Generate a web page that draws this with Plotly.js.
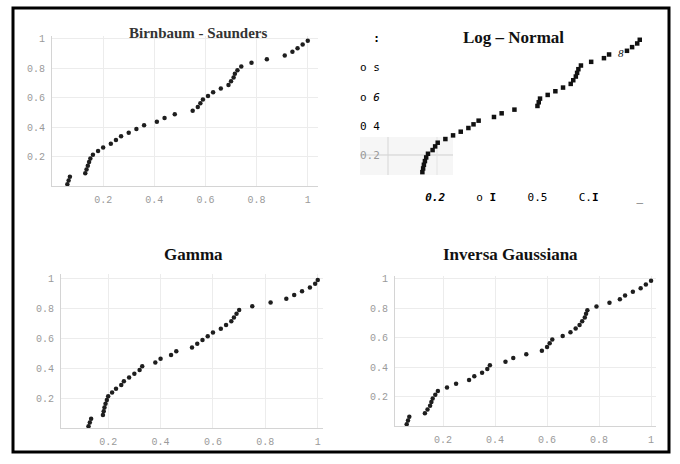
<!DOCTYPE html>
<html><head><meta charset="utf-8">
<script src="https://cdn.plot.ly/plotly-3.0.1.min.js"></script>
<style>html,body{margin:0;padding:0;background:#fff}#c{width:680px;height:464px}</style>
</head><body><div id="c"></div>
<script>
// Empirical probabilities (plotting positions)
const yEmp = [0.0125,0.0375,0.0625,0.0875,0.1125,0.1375,0.1625,0.1875,0.2125,0.2375,0.2625,0.2875,0.3125,0.3375,0.3625,0.3875,0.4125,0.4375,0.4625,0.4875,0.5125,0.5375,0.5625,0.5875,0.6125,0.6375,0.6625,0.6875,0.7125,0.7375,0.7625,0.7875,0.8125,0.8375,0.8625,0.8875,0.9125,0.9375,0.9625,0.9875];
const yEmpLN = [0.0875,0.1125,0.1375,0.1625,0.1875,0.2125,0.2375,0.2625,0.2875,0.3125,0.3375,0.3625,0.3875,0.4125,0.4375,0.4625,0.4875,0.5125,0.5375,0.5625,0.5875,0.6125,0.6375,0.6625,0.6875,0.7125,0.7375,0.7625,0.7875,0.8125,0.8375,0.8625,0.8875,0.9125,0.9375,0.9625,0.9875];
// Theoretical probabilities per fitted distribution
const xBS = [0.06,0.065,0.07,0.13,0.135,0.14,0.145,0.15,0.16,0.18,0.20,0.23,0.25,0.27,0.30,0.33,0.36,0.41,0.44,0.48,0.55,0.57,0.58,0.59,0.61,0.63,0.66,0.69,0.70,0.71,0.715,0.725,0.74,0.78,0.84,0.91,0.94,0.96,0.98,1.0];
const xLN = [0.150,0.153,0.156,0.160,0.165,0.172,0.19,0.20,0.21,0.24,0.27,0.30,0.33,0.35,0.37,0.43,0.46,0.51,0.60,0.605,0.61,0.64,0.67,0.70,0.73,0.74,0.75,0.755,0.76,0.77,0.81,0.86,0.88,0.95,0.97,0.99,1.0];
const xGA = [0.125,0.13,0.135,0.18,0.183,0.186,0.19,0.195,0.20,0.215,0.23,0.25,0.26,0.28,0.30,0.32,0.33,0.38,0.40,0.44,0.46,0.52,0.54,0.56,0.58,0.60,0.63,0.65,0.67,0.68,0.69,0.70,0.75,0.82,0.88,0.91,0.94,0.97,0.99,1.0];
const xIG = [0.06,0.065,0.07,0.13,0.14,0.15,0.155,0.16,0.17,0.18,0.215,0.25,0.30,0.32,0.35,0.37,0.38,0.44,0.47,0.52,0.58,0.60,0.61,0.62,0.66,0.69,0.71,0.725,0.735,0.745,0.75,0.755,0.79,0.84,0.88,0.90,0.93,0.96,0.98,1.0];

const titles = ["Birnbaum - Saunders","Log \u2013 Normal","Gamma","Inversa Gaussiana"];
const tickVals = [0.2,0.4,0.6,0.8,1];
const tickText = ["0.2","0.4","0.6","0.8","1"];
const lnYTicks = ["<span style=\"color:#9a9a9a\">0.2</span>","0 4","o <i>6</i>","o s","<b>:</b>"];
const lnXTicks = ["<b><i>0.2</i></b>","o <b>I</b>","0.5","C.<b>I</b>","_"];

const W = 680, H = 464;
const px = v => v / W;
const py = v => 1 - v / H;

const mk = {color:'#1e1e1e', size:4.5};
const data = [
  {x:xBS, y:yEmp, type:'scatter', mode:'markers', marker:mk, xaxis:'x', yaxis:'y'},
  {x:xLN, y:yEmpLN, type:'scatter', mode:'markers', marker:{color:'#111', size:4.5, symbol:'square'}, xaxis:'x2', yaxis:'y2'},
  {x:xGA, y:yEmp, type:'scatter', mode:'markers', marker:mk, xaxis:'x3', yaxis:'y3'},
  {x:xIG, y:yEmp, type:'scatter', mode:'markers', marker:mk, xaxis:'x4', yaxis:'y4'}
];

const tf = {family:'Liberation Mono, monospace', size:10, color:'#9a9a9a'};
function ax(dom, range, anchor){
  return {domain:dom, range:range, anchor:anchor, tickvals:tickVals, ticktext:tickText,
    showline:true, linecolor:'#d4d4d4', linewidth:1, showgrid:true, gridcolor:'#ececec', zeroline:false,
    ticks:'outside', ticklen:4, tickcolor:'rgba(0,0,0,0)', tickfont:tf, fixedrange:true};
}
const lnTf = {family:'DejaVu Sans Mono, monospace', size:11, color:'#000'};

function title(t, x, y, size, color){
  return {text:'<b>'+t+'</b>', xref:'paper', yref:'paper', x:px(x), y:py(y), xanchor:'center', yanchor:'middle',
    showarrow:false, font:{family:'Liberation Serif, serif', size:size, color:color}};
}

const layout = {
  width:W, height:H, margin:{l:0,r:0,t:0,b:0}, showlegend:false,
  paper_bgcolor:'#fff', plot_bgcolor:'rgba(0,0,0,0)',
  xaxis: ax([px(52),px(318)],[0,1.04],'y'),
  yaxis: ax([py(186),py(36)],[0,1.02],'x'),
  xaxis2: Object.assign(ax([px(384),px(650)],[0,1.04],'y2'),{showline:false,showgrid:false,ticktext:lnXTicks,tickfont:lnTf,ticklen:2}),
  yaxis2: Object.assign(ax([py(185),py(35)],[0,1.02],'x2'),{showline:false,showgrid:false,ticktext:lnYTicks,tickfont:lnTf,ticklen:1}),
  xaxis3: ax([px(61),px(323)],[0.02,1.02],'y3'),
  yaxis3: ax([py(428),py(274)],[0,1.027],'x3'),
  xaxis4: ax([px(395),px(656)],[0.015,1.019],'y4'),
  yaxis4: ax([py(426),py(276)],[0,1.02],'x4'),
  shapes:[
    {type:'rect', xref:'paper', yref:'paper', x0:px(360), x1:px(453), y0:py(175), y1:py(137), fillcolor:'#f6f6f6', line:{width:0}, layer:'below'},
    {type:'line', xref:'paper', yref:'paper', x0:px(360), x1:px(453), y0:py(155), y1:py(155), line:{color:'#cfcfcf', width:1}, layer:'below'},
    {type:'line', xref:'paper', yref:'paper', x0:px(388), x1:px(388), y0:py(175), y1:py(137), line:{color:'#d6d6d6', width:1}, layer:'below'},
    {type:'line', xref:'paper', yref:'paper', x0:px(437), x1:px(437), y0:py(175), y1:py(137), line:{color:'#e4e4e4', width:1}, layer:'below'},
    {type:'rect', xref:'paper', yref:'paper', x0:px(13), x1:px(669), y0:py(452), y1:py(8), line:{color:'#000', width:3}, fillcolor:'rgba(0,0,0,0)'}
  ],
  annotations:[
    title(titles[0], 198, 33, 15, '#333'),
    title(titles[1], 513, 37, 17, '#111'),
    title(titles[2], 193, 255, 17, '#111'),
    title(titles[3], 510, 255, 17, '#111'),
    {text:'<i>8</i>', xref:'paper', yref:'paper', x:px(621), y:py(53), xanchor:'center', yanchor:'middle', showarrow:false, font:{family:'Liberation Serif, serif', size:11, color:'#111'}}
  ]
};
Plotly.newPlot('c', data, layout, {staticPlot:true, displayModeBar:false});
</script></body></html>
